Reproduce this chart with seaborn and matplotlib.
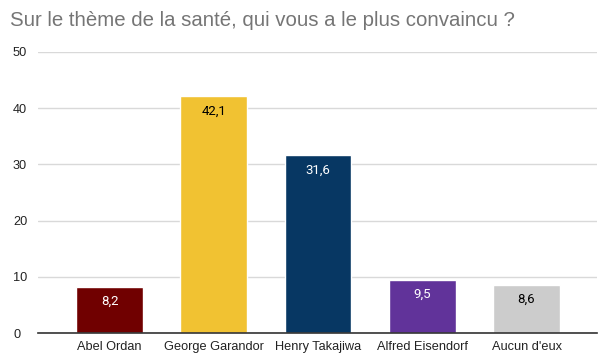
import matplotlib
matplotlib.use('Agg')
import matplotlib.pyplot as plt
import seaborn as sns
import pandas as pd

candidats = ['Abel Ordan', 'George Garandor', 'Henry Takajiwa', 'Alfred Eisendorf', "Aucun d'eux"]
valeurs = [8.2, 42.1, 31.6, 9.5, 8.6]
couleurs = ['#700000', '#F1C232', '#073763', '#61339A', '#CCCCCC']
couleurs_texte = ['white', 'black', 'white', 'white', 'black']
yticks = [0, 10, 20, 30, 40, 50]

sns.set_style('white')
plt.rcParams['font.family'] = ['Liberation Sans', 'DejaVu Sans']

df = pd.DataFrame({'candidat': candidats, 'valeur': valeurs})

fig = plt.figure(figsize=(6.12, 3.61), dpi=100)
ax = fig.add_axes([38 / 612, 1 - 333 / 361, (597 - 38) / 612, (333 - 52) / 361])

sns.barplot(data=df, x='candidat', y='valeur', hue='candidat', palette=couleurs,
            legend=False, width=0.64, saturation=1, ax=ax, zorder=3)

ax.set_xlim(-0.686, 4.676)
ax.set_ylim(0, 50)
ax.set_yticks(yticks)
ax.set_yticklabels([str(t) for t in yticks], fontsize=9.2, color='#222222')
ax.tick_params(axis='x', labelsize=9.2, colors='#222222', length=0, pad=6)
ax.tick_params(axis='y', length=0, pad=18)
for lbl in ax.get_yticklabels():
    lbl.set_horizontalalignment('left')
ax.yaxis.grid(True, color='#D9D9D9', linewidth=1, zorder=0)
ax.set_xlabel('')
ax.set_ylabel('')
for s in ['top', 'right', 'left']:
    ax.spines[s].set_visible(False)
ax.spines['bottom'].set_color('#333333')
ax.spines['bottom'].set_linewidth(1.2)
ax.spines['bottom'].set_zorder(4)

for i, (v, c) in enumerate(zip(valeurs, couleurs_texte)):
    ax.text(i, v - 1.4, f'{v:.1f}'.replace('.', ','), ha='center', va='top',
            fontsize=9.5, color=c, family=['Roboto', 'DejaVu Sans'], zorder=5)

fig.text(10 / 612, 1 - 21 / 361, 'Sur le thème de la santé, qui vous a le plus convaincu ?',
         fontsize=14.7, color='#757575', va='center', ha='left')

fig.savefig('out.png', dpi=100)
